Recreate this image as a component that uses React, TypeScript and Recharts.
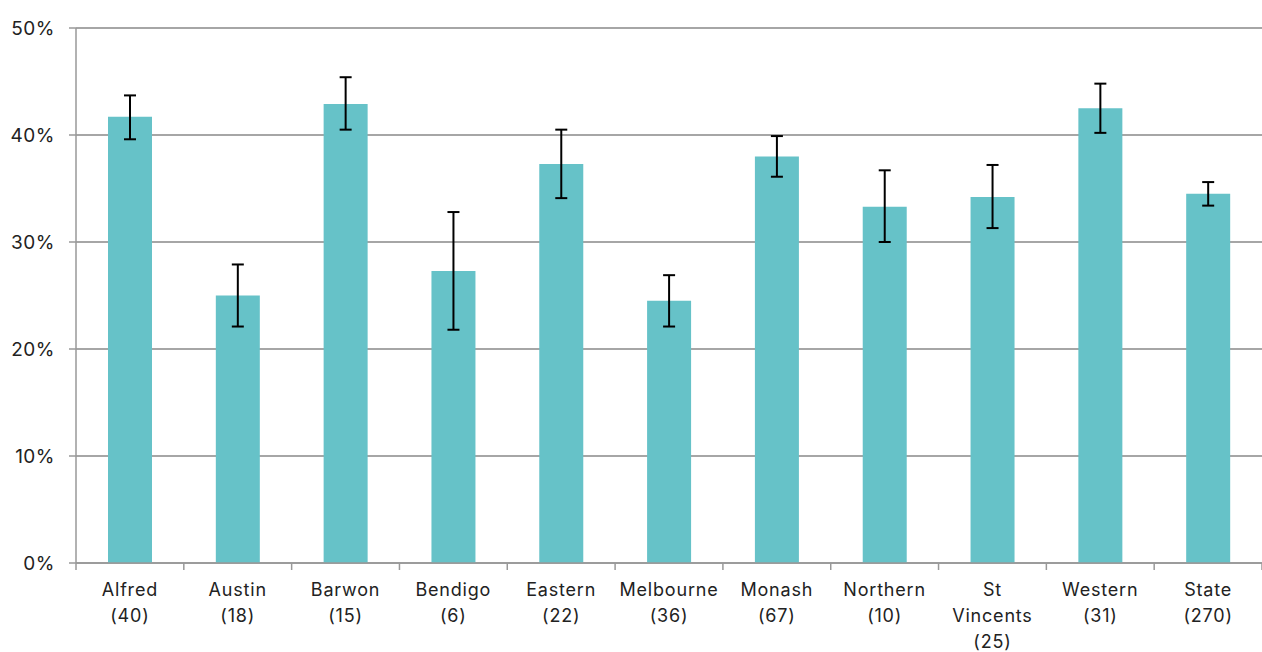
import React from "react";
import { Bar, BarChart, CartesianGrid, ErrorBar, XAxis, YAxis } from "recharts";

const hospitals = ["Alfred", "Austin", "Barwon", "Bendigo", "Eastern", "Melbourne", "Monash", "Northern", "St Vincents", "Western", "State"];
const counts = [40, 18, 15, 6, 22, 36, 67, 10, 25, 31, 270];
const rates = [41.7, 25.0, 42.9, 27.3, 37.3, 24.5, 38.0, 33.3, 34.2, 42.5, 34.5];
const lowerCI = [39.6, 22.1, 40.5, 21.8, 34.1, 22.1, 36.1, 30.0, 31.3, 40.2, 33.4];
const upperCI = [43.7, 27.9, 45.4, 32.8, 40.5, 26.9, 39.9, 36.7, 37.2, 44.8, 35.6];
const yTicks = [0, 10, 20, 30, 40, 50];

const data = hospitals.map((name, i) => ({
  name,
  rate: rates[i],
  err: [rates[i] - lowerCI[i], upperCI[i] - rates[i]],
}));

const W = 1262;
const H = 652;
const AXIS_X = 76;
const band = (W - AXIS_X) / hospitals.length;
const font = "Inter, 'Open Sans', sans-serif";

const CategoryTick = (props: any) => {
  const { x, y, payload, index } = props;
  const name: string = payload.value;
  const i = hospitals.indexOf(name);
  const words = name === "St Vincents" ? ["St", "Vincents"] : [name];
  const lines = [...words, `(${counts[i]})`];
  const axisY = y - 8;
  return (
    <g>
      {index === 0 && (
        <line x1={x - band / 2} x2={x - band / 2} y1={axisY} y2={axisY + 7} stroke="#999" strokeWidth={1.5} />
      )}
      <line x1={x + band / 2} x2={x + band / 2} y1={axisY} y2={axisY + 7} stroke="#999" strokeWidth={1.5} />
      {lines.map((t, k) => (
        <text key={k} x={x} y={axisY + 33 + k * 26} textAnchor="middle" fontSize={18} fill="#222" fontFamily={font} letterSpacing={0.8}>
          {t}
        </text>
      ))}
    </g>
  );
};

export default function App() {
  return (
    <div style={{ position: "absolute", left: 0, top: 0, background: "#fff" }}>
      <BarChart width={W} height={H} data={data} margin={{ top: 28, right: 0, bottom: 0, left: 0 }}>
        <CartesianGrid vertical={false} stroke="#888" strokeWidth={1.5} />
        <XAxis
          dataKey="name"
          height={89}
          interval={0}
          tickLine={false}
          axisLine={{ stroke: "#999", strokeWidth: 1.5 }}
          tick={<CategoryTick />}
        />
        <YAxis
          width={AXIS_X}
          domain={[0, 50]}
          ticks={yTicks}
          tickFormatter={(v: number) => `${v}%`}
          tickSize={7}
          tickMargin={14}
          tickLine={{ stroke: "#999", strokeWidth: 1.5 }}
          axisLine={{ stroke: "#999", strokeWidth: 1.5 }}
          tick={{ fontSize: 19, fill: "#222", fontFamily: font, letterSpacing: 0.5 }}
        />
        <Bar dataKey="rate" fill="#66C2C8" barSize={44} isAnimationActive={false}>
          <ErrorBar dataKey="err" width={6} stroke="#000" strokeWidth={2} direction="y" />
        </Bar>
      </BarChart>
    </div>
  );
}
